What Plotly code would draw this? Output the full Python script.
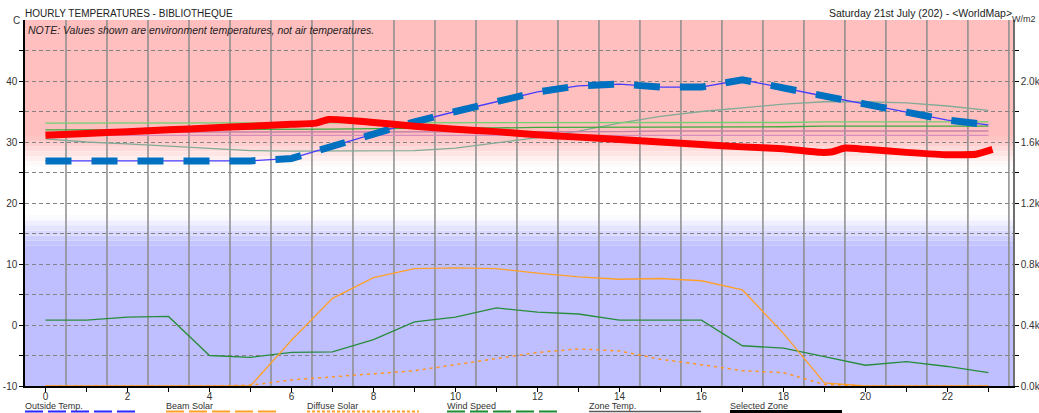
import plotly.graph_objects as go

# ---------------- data ----------------
hours = list(range(24))

outside_temp = [26.9, 26.9, 26.8, 26.8, 26.8, 26.9, 27.3, 29.3, 31.4, 33.3, 35.0, 36.6,
                38.2, 39.2, 39.5, 39.0, 39.0, 40.2, 38.8, 37.5, 36.2, 34.9, 33.6, 32.8]

sel_hours = [0, 1, 2, 3, 4, 5, 6, 6.6, 6.9, 7.5, 8, 9, 10, 11, 12, 13, 14, 15, 16, 17,
             18, 18.9, 19.2, 19.5, 20, 21, 22, 22.7, 23.1]
sel_temp = [31.1, 31.4, 31.7, 32.0, 32.3, 32.6, 32.9, 33.1, 33.7, 33.5, 33.2, 32.6, 32.1,
            31.7, 31.2, 30.8, 30.4, 30.0, 29.6, 29.2, 28.9, 28.3, 28.4, 29.0, 28.8, 28.3,
            27.9, 28.0, 28.8]

zone_a = [33.1, 33.1, 33.1, 33.1, 33.1, 33.1, 33.1, 33.1, 33.1, 33.1, 33.1, 33.1,
          33.1, 33.2, 33.2, 33.2, 33.2, 33.2, 33.2, 33.3, 33.3, 33.3, 33.3, 33.3]
zone_b = [32.0, 32.0, 32.0, 32.0, 32.0, 32.1, 32.1, 32.1, 32.2, 32.2, 32.3, 32.3,
          32.4, 32.4, 32.4, 32.5, 32.5, 32.5, 32.5, 32.6, 32.6, 32.6, 32.6, 32.6]
zone_c = [31.6, 31.6, 31.6, 31.6, 31.6, 31.6, 31.6, 31.6, 31.6, 31.7, 31.7, 31.7,
          31.7, 31.7, 31.7, 31.8, 31.8, 31.8, 31.8, 31.8, 31.8, 31.8, 31.8, 31.8]
zone_d = [31.1, 31.1, 31.1, 31.1, 31.1, 31.1, 31.1, 31.1, 31.1, 31.1, 31.1, 31.1,
          31.1, 31.1, 31.1, 31.1, 31.1, 31.1, 31.1, 31.1, 31.1, 31.1, 31.1, 31.1]
zone_e = [30.5, 30.0, 29.7, 29.3, 29.0, 28.6, 28.5, 28.5, 28.5, 28.6, 29.0, 29.8,
          30.7, 31.8, 33.1, 34.2, 35.0, 35.6, 36.2, 36.6, 36.6, 36.4, 35.9, 35.2]

wind_speed = [0.8, 0.8, 1.3, 1.4, -5.0, -5.3, -4.5, -4.4, -2.4, 0.5, 1.3, 2.8,
              2.1, 1.8, 0.8, 0.8, 0.8, -3.4, -3.8, -5.2, -6.6, -6.0, -6.8, -7.8]

beam_solar = [0, 0, 0, 0, 0, 0, 300, 575, 710, 770, 775, 770,
              740, 715, 700, 705, 690, 630, 345, 20, 0, 0, 0, 0]
diffuse_solar = [0, 0, 0, 0, 0, 5, 40, 60, 80, 100, 140, 180,
                 220, 243, 230, 175, 140, 100, 88, 10, 0, 0, 0, 0]

left_ticks = [-10, -5, 0, 5, 10, 15, 20, 25, 30, 35, 40, 45]
left_labels = ["-10", "", "0", "", "10", "", "20", "", "30", "", "40", ""]
right_ticks = [0, 200, 400, 600, 800, 1000, 1200, 1400, 1600, 1800, 2000, 2200]
right_labels = ["0.0k", "", "0.4k", "", "0.8k", "", "1.2k", "", "1.6k", "", "2.0k", ""]
x_labels = [str(h) if h % 2 == 0 else "" for h in hours]
half_hours = [h + 0.5 for h in hours]

legend_names = ["Outside Temp.", "Beam Solar", "Diffuse Solar", "Wind Speed", "Zone Temp.", "Selected Zone"]

# ---------------- figure ----------------
W, H = 1039, 413
L, R, T, B = 25, 26, 20, 27
FONT = "Liberation Sans, Arial, sans-serif"

fig = go.Figure()

# background bands
PINK = (255, 191, 191)
LAV = (191, 191, 255)
shapes = []
def band(y0, y1, rgb):
    shapes.append(dict(type="rect", xref="paper", x0=0, x1=1, yref="y", y0=y0, y1=y1,
                       fillcolor="rgb(%d,%d,%d)" % rgb, line=dict(width=0), layer="below"))

band(31.0, 50, PINK)
nb = 6
for i in range(nb):
    f = (i + 0.5) / nb
    c = tuple(int(round(255 + (p - 255) * (1 - f))) for p in PINK)
    band(31.0 - 5.0 * (i + 1) / nb, 31.0 - 5.0 * i / nb, c)
band(-10, 13.0, LAV)
for i in range(nb):
    f = (i + 0.5) / nb
    c = tuple(int(round(255 + (p - 255) * (1 - f))) for p in LAV)
    band(13.0 + 5.0 * i / nb, 13.0 + 5.0 * (i + 1) / nb, c)

# vertical grid lines at half hours
for hx in half_hours:
    if hx < 23.6:
        shapes.append(dict(type="line", xref="x", x0=hx, x1=hx, yref="paper", y0=0, y1=1,
                           line=dict(color="rgb(140,140,140)", width=1.5), layer="below"))

# zone temperature thin lines
for vals, col in [(zone_e, "rgb(130,170,150)"), (zone_d, "rgb(215,140,190)"),
                  (zone_c, "rgb(200,130,170)"), (zone_b, "rgb(60,170,60)"),
                  (zone_a, "rgb(110,210,110)")]:
    fig.add_trace(go.Scatter(x=hours, y=vals, mode="lines", line=dict(color=col, width=1.3),
                             showlegend=False, hoverinfo="skip"))

# wind speed
fig.add_trace(go.Scatter(x=hours, y=wind_speed, mode="lines",
                         line=dict(color="rgb(40,140,60)", width=1.3), showlegend=False))
# beam / diffuse solar on right axis
fig.add_trace(go.Scatter(x=hours, y=beam_solar, mode="lines", yaxis="y2",
                         line=dict(color="rgb(255,160,40)", width=1.3), showlegend=False))
fig.add_trace(go.Scatter(x=hours, y=diffuse_solar, mode="lines", yaxis="y2",
                         line=dict(color="rgb(255,150,30)", width=1.5, dash="3px,4px"),
                         showlegend=False))
# outside temp
fig.add_trace(go.Scatter(x=hours, y=outside_temp, mode="lines",
                         line=dict(color="rgb(70,60,255)", width=1.3), showlegend=False))
fig.add_trace(go.Scatter(x=hours, y=outside_temp, mode="lines",
                         line=dict(color="rgb(0,112,192)", width=7, dash="26px,20px"),
                         showlegend=False))
# selected zone
fig.add_trace(go.Scatter(x=sel_hours, y=sel_temp, mode="lines",
                         line=dict(color="rgb(255,0,0)", width=7, shape="spline", smoothing=0.3),
                         showlegend=False))

# legend (custom, text above swatch)
pw = W - L - R
ph = H - T - B
def px(x):
    return (x - L) / pw
def py(y):
    return (H - B - y) / ph

leg_x = [25, 166, 307, 447, 589, 730]
leg_styles = [
    dict(color="rgb(40,40,255)", width=2, dash="18px,5px"),
    dict(color="rgb(255,160,40)", width=2, dash="18px,5px"),
    dict(color="rgb(255,160,40)", width=2, dash="3px,2px"),
    dict(color="rgb(30,140,50)", width=2, dash="18px,5px"),
    dict(color="rgb(90,90,90)", width=1.5),
    dict(color="black", width=3),
]
annotations = []
for name, x0, st in zip(legend_names, leg_x, leg_styles):
    annotations.append(dict(text=name, xref="paper", yref="paper", x=px(x0 - 2), y=py(405.5),
                            xanchor="left", yanchor="middle", showarrow=False,
                            font=dict(family=FONT, size=9, color="#333")))
    shapes.append(dict(type="line", xref="paper", yref="paper", x0=px(x0), x1=px(x0 + 112),
                       y0=py(411.5), y1=py(411.5), line=st, layer="above"))

annotations += [
    dict(text="HOURLY TEMPERATURES - BIBLIOTHEQUE", xref="paper", yref="paper",
         x=px(23), y=py(13), xanchor="left", yanchor="middle", showarrow=False,
         font=dict(family=FONT, size=10, color="#222")),
    dict(text="Saturday 21st July (202) - <WorldMap>", xref="paper", yref="paper",
         x=px(1014), y=py(13), xanchor="right", yanchor="middle", showarrow=False,
         font=dict(family=FONT, size=10.5, color="#222")),
    dict(text="W/m2", xref="paper", yref="paper", x=px(1038), y=py(19),
         xanchor="right", yanchor="middle", showarrow=False,
         font=dict(family=FONT, size=9, color="#333")),
    dict(text="C", xref="paper", yref="paper", x=px(11), y=py(20),
         xanchor="left", yanchor="middle", showarrow=False,
         font=dict(family=FONT, size=10, color="#333")),
    dict(text="<i>NOTE: Values shown are environment temperatures, not air temperatures.</i>",
         xref="paper", yref="paper", x=px(26), y=py(30), xanchor="left", yanchor="middle",
         showarrow=False, font=dict(family=FONT, size=10.5, color="#222")),
]

fig.update_layout(
    width=W, height=H,
    margin=dict(l=L, r=R, t=T, b=B, pad=0, autoexpand=False),
    paper_bgcolor="white", plot_bgcolor="white",
    showlegend=False,
    shapes=shapes, annotations=annotations,
    font=dict(family=FONT, size=10, color="#333"),
    xaxis=dict(range=[-0.5, 23.6], tickvals=hours, ticktext=x_labels, automargin=False,
               ticks="outside", ticklen=4, tickcolor="black", ticklabelstandoff=-4,
               showgrid=False, zeroline=False,
               showline=True, linecolor="black", linewidth=1.5,
               tickfont=dict(size=10)),
    yaxis=dict(range=[-10, 50], tickvals=left_ticks, ticktext=left_labels, automargin=False,
               ticks="outside", ticklen=4, tickcolor="black",
               showgrid=True, gridcolor="rgb(130,130,130)", griddash="4px,3px", gridwidth=1,
               zeroline=False, showline=True, linecolor="black", linewidth=1.5,
               tickfont=dict(size=10)),
    yaxis2=dict(range=[0, 2400], overlaying="y", side="right", tickvals=right_ticks,
                ticktext=right_labels, ticks="outside", ticklen=4, tickcolor="black",
                automargin=False,
                showgrid=False, zeroline=False, showline=True, linecolor="rgb(110,110,110)",
                linewidth=1.5, tickfont=dict(size=10)),
)

fig.write_html("out.html", config={"displayModeBar": False},
               post_script="document.body.style.margin='0px';document.body.style.overflow='hidden';")
